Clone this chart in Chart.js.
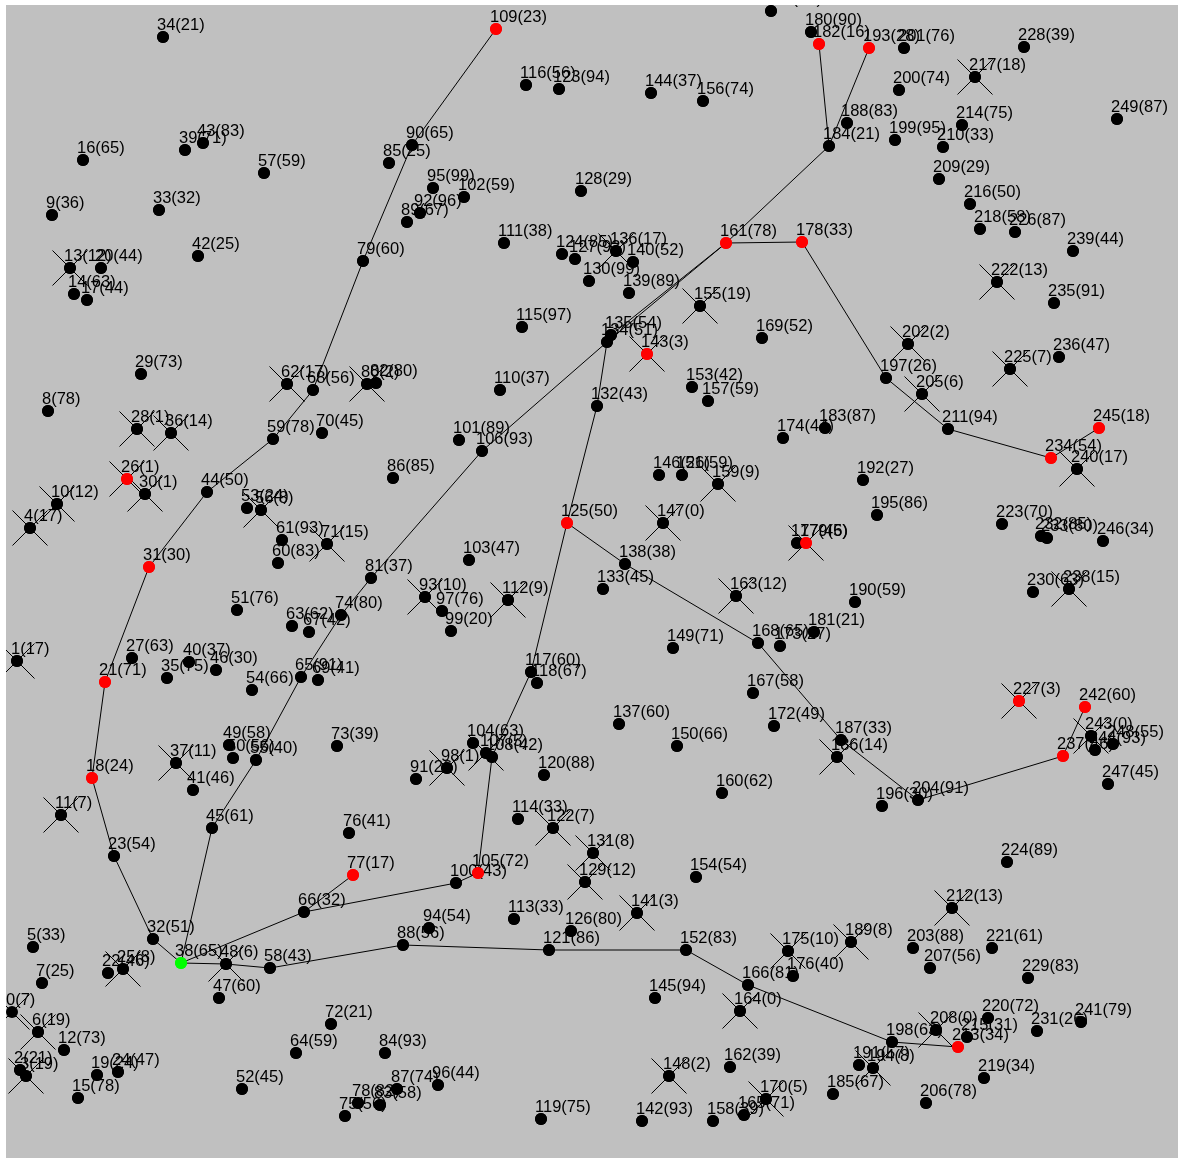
<!DOCTYPE html>
<html>
<head>
<meta charset="utf-8">
<title>Steiner tree over weighted nodes</title>
<script src="https://cdn.jsdelivr.net/npm/chart.js@4/dist/chart.umd.min.js"></script>
<style>
  html, body { margin: 0; padding: 0; background: #ffffff; overflow: hidden; }
  #wrap { position: relative; width: 1181px; height: 1159px; }
</style>
</head>
<body>
<div id="wrap"><canvas id="net"></canvas></div>
<script>
// Node layout coordinates (plane units), indexed by node id
const nodeX = [
  12, 17, 20, 26, 30, 33, 38, 42, 48, 52,
  57, 61, 64, 70, 74, 78, 83, 87, 92, 97,
  101, 105, 108, 114, 118, 123, 127, 132, 137, 141,
  145, 149, 153, 159, 163, 167, 171, 176, 181, 185,
  189, 193, 198, 203, 207, 212, 216, 219, 226, 229,
  233, 237, 242, 247, 252, 256, 261, 264, 270, 273,
  278, 282, 287, 292, 296, 301, 304, 309, 313, 318,
  322, 327, 331, 337, 341, 345, 349, 353, 358, 363,
  367, 371, 376, 380, 385, 389, 393, 397, 403, 407,
  412, 416, 420, 425, 429, 433, 438, 442, 447, 451,
  456, 459, 464, 469, 473, 478, 482, 486, 492, 496,
  500, 504, 508, 514, 518, 522, 526, 531, 537, 541,
  544, 549, 553, 559, 562, 567, 571, 575, 581, 585,
  589, 593, 597, 603, 607, 611, 616, 619, 625, 629,
  633, 637, 642, 647, 651, 655, 659, 663, 669, 673,
  677, 682, 686, 692, 696, 700, 703, 708, 713, 718,
  722, 726, 730, 736, 740, 744, 748, 753, 758, 762,
  766, 771, 774, 780, 783, 788, 793, 797, 802, 806,
  811, 814, 819, 825, 829, 833, 837, 841, 847, 851,
  855, 859, 863, 869, 873, 877, 882, 886, 892, 895,
  899, 904, 908, 913, 918, 922, 926, 930, 936, 939,
  943, 948, 952, 958, 962, 967, 970, 975, 980, 984,
  988, 992, 997, 1002, 1007, 1010, 1015, 1019, 1024, 1028,
  1033, 1037, 1041, 1047, 1051, 1054, 1059, 1063, 1069, 1073,
  1077, 1081, 1085, 1091, 1095, 1099, 1103, 1108, 1113, 1117
];
const nodeY = [
  1012, 661, 1070, 1076, 528, 947, 1032, 983, 411, 215,
  504, 815, 1050, 268, 294, 1098, 160, 300, 778, 1075,
  268, 682, 973, 856, 1072, 969, 479, 658, 429, 374,
  494, 567, 939, 210, 37, 678, 433, 763, 963, 150,
  662, 790, 256, 143, 492, 828, 670, 998, 964, 745,
  758, 610, 1089, 508, 690, 760, 510, 173, 968, 439,
  563, 540, 384, 626, 1053, 677, 912, 632, 390, 680,
  433, 544, 1024, 746, 615, 1116, 833, 875, 1103, 261,
  384, 578, 383, 1105, 1053, 163, 478, 1089, 945, 222,
  145, 779, 213, 597, 928, 188, 1085, 611, 768, 631,
  883, 440, 197, 560, 743, 873, 451, 753, 757, 29,
  390, 243, 600, 919, 819, 327, 85, 672, 683, 1119,
  775, 950, 828, 89, 254, 523, 931, 259, 191, 882,
  281, 853, 406, 589, 342, 335, 251, 724, 564, 293,
  262, 913, 1121, 354, 93, 998, 475, 523, 1076, 648,
  746, 475, 950, 387, 877, 306, 101, 401, 1121, 484,
  793, 243, 1067, 596, 1011, 1115, 985, 693, 643, 338,
  1099, 11, 726, 646, 438, 951, 976, 543, 242, 543,
  32, 632, 44, 428, 146, 1094, 757, 740, 123, 942,
  602, 1065, 480, 48, 1068, 515, 806, 378, 1042, 140,
  90, 48, 344, 948, 800, 394, 1103, 968, 1030, 179,
  147, 429, 908, 1047, 125, 1037, 204, 77, 229, 1078,
  1018, 948, 282, 524, 862, 369, 232, 701, 47, 978,
  592, 1031, 536, 538, 458, 303, 357, 756, 589, 251,
  469, 1022, 707, 736, 750, 428, 541, 784, 744, 119
];
// Node weights shown in brackets
const nodeWeight = [
  7, 17, 21, 19, 17, 33, 19, 25, 78, 36,
  12, 7, 73, 12, 63, 78, 65, 44, 24, 24,
  44, 71, 46, 54, 47, 8, 1, 63, 1, 73,
  1, 30, 51, 32, 21, 75, 14, 11, 65, 71,
  37, 46, 25, 83, 50, 61, 30, 60, 6, 58,
  56, 76, 45, 24, 66, 40, 8, 59, 43, 78,
  83, 93, 17, 62, 59, 91, 32, 42, 56, 41,
  45, 15, 21, 39, 80, 56, 41, 17, 82, 60,
  2, 37, 80, 58, 93, 25, 85, 74, 56, 67,
  65, 26, 96, 10, 54, 99, 44, 76, 1, 20,
  43, 89, 59, 47, 63, 72, 93, 5, 42, 23,
  37, 38, 9, 33, 33, 97, 56, 60, 67, 75,
  88, 86, 7, 94, 85, 50, 80, 93, 29, 12,
  99, 8, 43, 45, 51, 54, 17, 60, 38, 89,
  52, 3, 93, 3, 37, 94, 26, 0, 2, 71,
  66, 59, 83, 42, 54, 19, 74, 59, 39, 9,
  62, 78, 39, 12, 0, 71, 81, 58, 65, 52,
  5, 40, 49, 27, 44, 10, 40, 46, 33, 5,
  90, 21, 16, 87, 21, 67, 14, 33, 83, 8,
  59, 57, 27, 28, 8, 86, 30, 26, 63, 95,
  74, 76, 2, 88, 91, 6, 78, 56, 0, 29,
  33, 94, 13, 34, 75, 31, 50, 18, 58, 34,
  72, 61, 13, 70, 89, 7, 87, 3, 39, 83,
  63, 26, 85, 80, 54, 91, 47, 46, 15, 44,
  17, 79, 60, 0, 93, 18, 34, 45, 55, 87
];
// Nodes marked with a cross
const crossedNodes = [
  0, 1, 3, 4, 6, 10, 11, 13, 25, 26, 28, 30, 36, 37, 48, 56, 62, 71, 80, 93,
  98, 107, 112, 122, 129, 131, 136, 141, 143, 147, 148, 155, 159, 163, 164,
  170, 175, 179, 186, 189, 194, 202, 205, 208, 212, 217, 222, 225, 227, 238,
  240, 243
];
// Terminal nodes and the root of the tree
const terminalNodes = [18, 21, 26, 31, 77, 105, 109, 125, 143, 161, 178, 179,
  182, 193, 213, 227, 234, 237, 242, 245];
const rootNode = 38;
// Tree edges as pairs of node ids
const treeEdges = [
  [38, 32], [32, 23], [23, 18], [18, 21], [21, 31], [31, 44], [44, 59],
  [59, 68], [68, 79], [79, 90], [90, 109],
  [38, 45], [45, 55], [55, 65], [65, 74], [74, 81], [81, 106], [106, 134],
  [134, 135], [134, 161], [135, 161], [161, 178], [178, 197], [197, 211],
  [211, 234], [234, 245], [161, 184], [184, 182], [184, 193],
  [38, 66], [66, 77], [66, 100], [100, 105], [105, 108], [108, 117],
  [117, 125], [125, 132], [132, 134], [125, 138], [138, 168], [168, 187],
  [187, 204], [204, 237], [237, 242],
  [38, 48], [48, 58], [58, 88], [88, 121], [121, 152], [152, 166],
  [166, 198], [198, 213]
];

const ids = nodeX.map((_, i) => i);
const pt = i => ({ x: nodeX[i], y: nodeY[i] });
const nodeColors = ids.map(i => i === rootNode ? '#00ff00'
  : (terminalNodes.includes(i) ? '#ff0000' : '#000000'));
const nodeLabels = ids.map(i => i + '(' + nodeWeight[i] + ')');

const edgeSets = treeEdges.map(([a, b]) => ({
  data: [pt(a), pt(b)],
  showLine: true,
  borderColor: '#000000',
  borderWidth: 1,
  pointRadius: 0,
  order: 3
}));

// Grey plotting field
const fieldPlugin = {
  id: 'field',
  beforeDatasetsDraw(chart) {
    const { ctx, chartArea: a } = chart;
    ctx.save();
    ctx.fillStyle = '#c0c0c0';
    ctx.fillRect(a.left, a.top, a.right - a.left, a.bottom - a.top);
    ctx.restore();
  }
};

// Node captions, painted node by node so later dots sit over earlier captions
const captionPlugin = {
  id: 'captions',
  afterDatasetsDraw(chart) {
    const { ctx, chartArea: a } = chart;
    const meta = chart.getDatasetMeta(0);
    ctx.save();
    ctx.beginPath();
    ctx.rect(a.left, a.top, a.right - a.left, a.bottom - a.top);
    ctx.clip();
    ctx.font = '16.5px "Liberation Sans", Arial, sans-serif';
    ctx.textBaseline = 'alphabetic';
    meta.data.forEach((el, i) => {
      if (i > 0) el.draw(ctx, a);
      ctx.fillStyle = '#000000';
      ctx.fillText(nodeLabels[i], el.x - 6, el.y - 7);
    });
    ctx.restore();
  }
};

new Chart(document.getElementById('net'), {
  type: 'scatter',
  data: {
    datasets: [
      {
        data: ids.map(pt),
        pointRadius: 6,
        pointBorderWidth: 0,
        pointBackgroundColor: nodeColors,
        backgroundColor: nodeColors,
        order: 1
      },
      {
        data: crossedNodes.map(pt),
        pointStyle: 'crossRot',
        pointRadius: 24.75,
        borderColor: '#000000',
        pointBorderColor: '#000000',
        pointBorderWidth: 1,
        order: 2
      },
      ...edgeSets
    ]
  },
  options: {
    responsive: true,
    maintainAspectRatio: false,
    animation: false,
    events: [],
    layout: { autoPadding: false, padding: { left: 6, top: 5, right: 3, bottom: 1 } },
    scales: {
      x: { type: 'linear', min: 6, max: 1178, display: false },
      y: { type: 'linear', min: 5, max: 1158, reverse: true, display: false }
    },
    plugins: {
      legend: { display: false },
      tooltip: { enabled: false }
    }
  },
  plugins: [fieldPlugin, captionPlugin]
});
</script>
</body>
</html>
